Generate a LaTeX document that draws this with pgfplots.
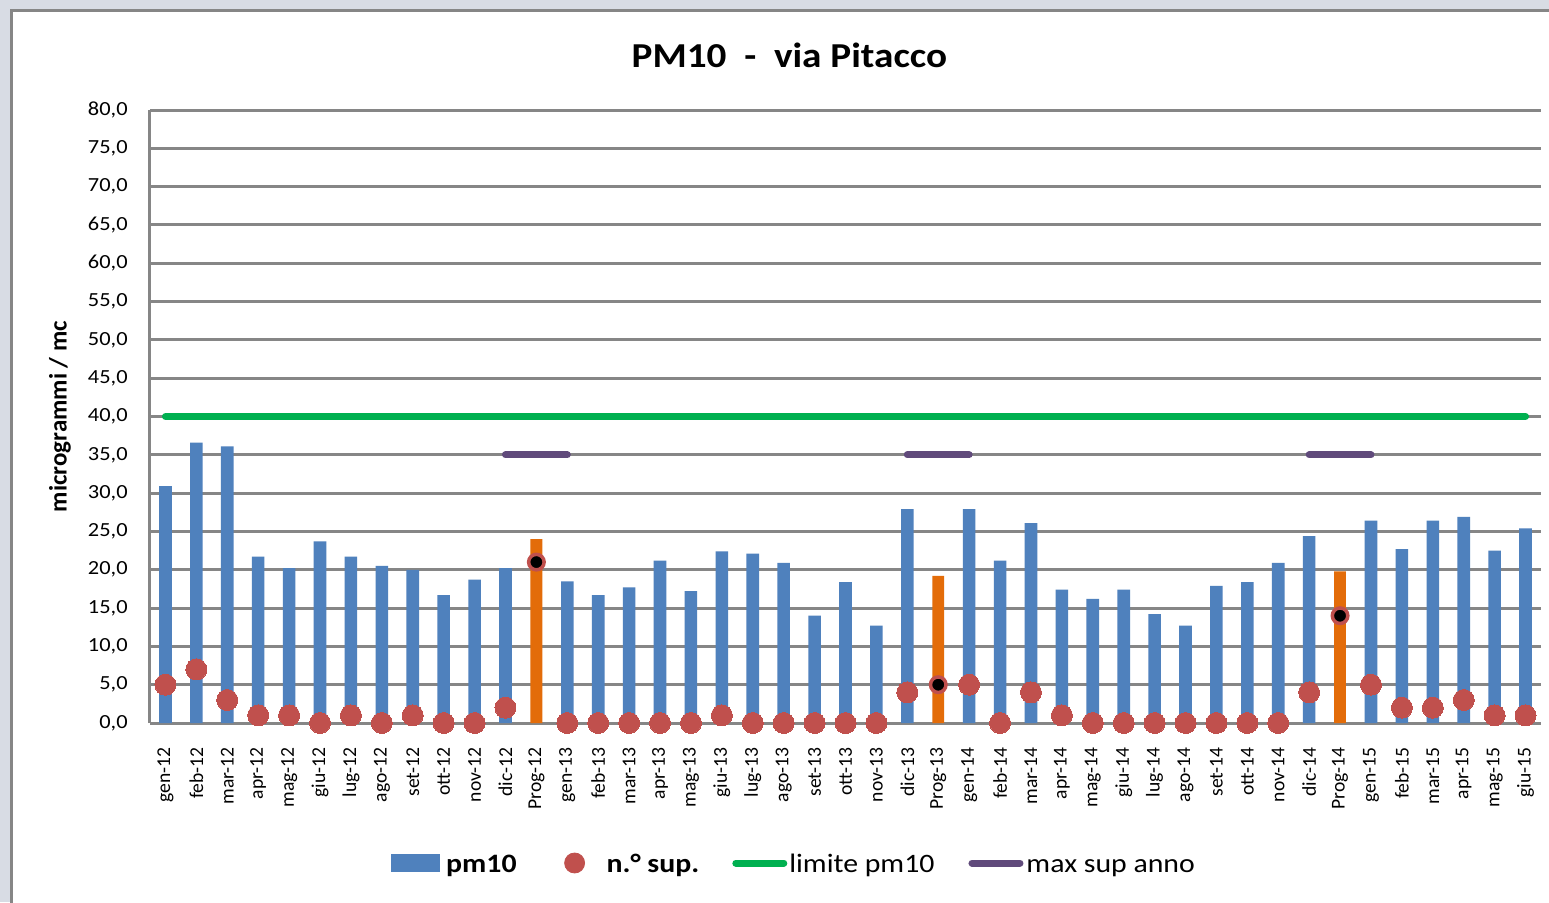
\documentclass[border=0pt]{standalone}
\usepackage{fontspec}
\setmainfont[FakeStretch=1.12]{Carlito}
\newfontfamily\rotfont{Carlito}
\usepackage{pgfplots}
\pgfplotsset{compat=1.18}
\definecolor{pmblue}{HTML}{4F81BD}
\definecolor{progorange}{HTML}{E36C09}
\definecolor{supred}{HTML}{C0504D}
\definecolor{limgreen}{HTML}{00B050}
\definecolor{maxpurple}{HTML}{604A7B}
\definecolor{gridgray}{HTML}{868686}
\definecolor{bgcol}{RGB}{216,220,228}
\begin{document}
\begin{tikzpicture}
\path[use as bounding box] (0,0) rectangle (774.5pt,451pt);
\fill[bgcol] (0,0) rectangle (774.5pt,451pt);
\fill[white] (5.5pt,-5pt) rectangle (780pt,445.5pt);
\draw[gridgray, line width=1.5pt] (5.5pt,-5pt) -- (5.5pt,445.5pt) -- (780pt,445.5pt);
\begin{axis}[
  at={(75pt,89.5pt)}, anchor=south west,
  scale only axis, width=695.5pt, height=306.5pt,
  xmin=-0.5, xmax=44.5, ymin=0, ymax=80,
  clip=false,
  axis lines*=left,
  axis line style={draw=gridgray, line width=1.5pt},
  major tick length=0pt,
  ymajorgrids,
  major grid style={draw=gridgray, line width=1.5pt},
  ytick={0,5,...,80},
  /pgf/number format/assume math mode=true,
  yticklabel style={/pgf/number format/.cd, fixed, fixed zerofill, precision=1, use comma, /tikz/.cd,
     font=\fontsize{10}{12}\selectfont, inner xsep=0pt, xshift=-11pt},
  xtick={0,...,44},
  xticklabels={gen-12,feb-12,mar-12,apr-12,mag-12,giu-12,lug-12,ago-12,set-12,ott-12,nov-12,dic-12,Prog-12,
    gen-13,feb-13,mar-13,apr-13,mag-13,giu-13,lug-13,ago-13,set-13,ott-13,nov-13,dic-13,Prog-13,
    gen-14,feb-14,mar-14,apr-14,mag-14,giu-14,lug-14,ago-14,set-14,ott-14,nov-14,dic-14,Prog-14,
    gen-15,feb-15,mar-15,apr-15,mag-15,giu-15},
  xticklabel style={yshift=-12pt, rotate=90, anchor=east, inner sep=0pt, font=\rotfont\fontsize{9.8}{11}\selectfont},
  ylabel={microgrammi / mc},
  y label style={at={(axis description cs:-0.0647,0.5)}, anchor=center, font=\rotfont\bfseries\fontsize{12.5}{14}\selectfont},
  title={PM10\ \ -\ \ via Pitacco},
  every axis title shift=0pt,
  title style={at={(axis description cs:0.4597,1.0897)}, anchor=center, font=\bfseries\fontsize{17.5}{20}\selectfont},
  legend style={at={(axis description cs:0.4623,-0.2284)}, anchor=center, draw=none, fill=none,
    legend columns=-1, column sep=0pt, nodes={inner xsep=0pt, inner ysep=2pt},
    font=\fontsize{13.3}{16}\selectfont},
  unbounded coords=jump,
]
% pm10 monthly bars
\addplot[ybar, bar width=6.3pt, bar shift=0pt, fill=pmblue, draw=none,
  legend image code/.code={\fill[pmblue] (0pt,-4.4pt) rectangle (24.5pt,4.4pt); \path[draw=none,fill=none] (27.5pt,0pt);}]
coordinates {
(0,30.9) (1,36.6) (2,36.1) (3,21.7) (4,20.2) (5,23.7) (6,21.7) (7,20.5) (8,20.0) (9,16.7) (10,18.7) (11,20.2)
(13,18.5) (14,16.7) (15,17.7) (16,21.2) (17,17.2) (18,22.4) (19,22.1) (20,20.9) (21,14.0) (22,18.4) (23,12.7) (24,27.9)
(26,27.9) (27,21.2) (28,26.1) (29,17.4) (30,16.2) (31,17.4) (32,14.2) (33,12.7) (34,17.9) (35,18.4) (36,20.9) (37,24.4)
(39,26.4) (40,22.7) (41,26.4) (42,26.9) (43,22.5) (44,25.4)
};
\addlegendentry{\strut\textbf{pm10}}
% yearly averages (Prog)
\addplot[ybar, bar width=5.9pt, bar shift=0pt, fill=progorange, draw=none, forget plot]
coordinates {(12,24.0) (25,19.2) (38,19.8)};
% number of exceedances
\addplot[only marks, mark=*, mark size=5.25pt, mark options={fill=supred, draw=supred, line width=0pt},
  legend image code/.code={\path[draw=none,fill=none] (0pt,0pt) (45pt,0pt); \fill[supred] (29pt,0pt) circle (5pt);}]
coordinates {
(0,5) (1,7) (2,3) (3,1) (4,1) (5,0) (6,1) (7,0) (8,1) (9,0) (10,0) (11,2)
(13,0) (14,0) (15,0) (16,0) (17,0) (18,1) (19,0) (20,0) (21,0) (22,0) (23,0) (24,4)
(26,5) (27,0) (28,4) (29,1) (30,0) (31,0) (32,0) (33,0) (34,0) (35,0) (36,0) (37,4)
(39,5) (40,2) (41,2) (42,3) (43,1) (44,1)
};
\addlegendentry{\strut\textbf{n.° sup.}}
\addplot[only marks, mark=*, mark size=3.875pt, mark options={fill=black, draw=supred, line width=1.75pt}, forget plot]
coordinates {(12,21) (25,5) (38,14)};
% limit
\addplot[limgreen, line width=3.5pt, line cap=round,
  legend image code/.code={\path[draw=none,fill=none] (0pt,0pt) (45pt,0pt); \draw[limgreen, line width=3.5pt, line cap=round] (18.25pt,0pt) -- (42.25pt,0pt);}]
coordinates {(0,40) (44,40)};
\addlegendentry{\strut limite pm10}
% max exceedances per year
\addplot[maxpurple, line width=3.5pt, line cap=round,
  legend image code/.code={\path[draw=none,fill=none] (0pt,0pt) (46pt,0pt); \draw[maxpurple, line width=3.5pt, line cap=round] (18.75pt,0pt) -- (42.75pt,0pt);}]
coordinates {(11,35) (13,35) (18,nan) (24,35) (26,35) (31,nan) (37,35) (39,35)};
\addlegendentry{\strut max sup anno}
\end{axis}
\end{tikzpicture}
\end{document}
